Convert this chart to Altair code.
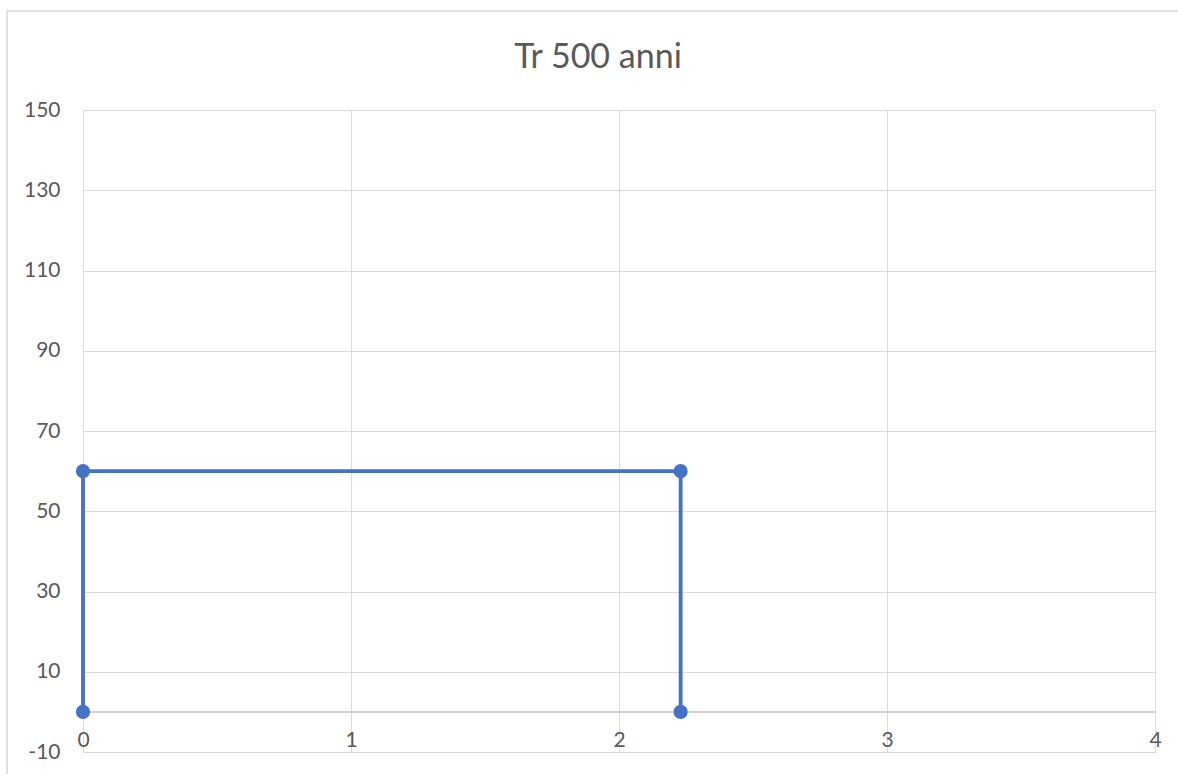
import altair as alt
import pandas as pd

# Outline of the section (x, y), drawn in order
step = [1, 2, 3, 4]
xs = [0, 0, 2.23, 2.23]
ys = [0, 60, 60, 0]

x_ticks = [0, 1, 2, 3, 4]
y_ticks = [-10, 10, 30, 50, 70, 90, 110, 130, 150]

TITLE = "Tr 500 anni"

df = pd.DataFrame({"step": step, "x": xs, "y": ys})

FONT = "Lato"
TXT = "#595959"
GRID = "#d9d9d9"
BLUE = "#4472C4"

W, H = 1072, 642

x_scale = alt.Scale(domain=[0, 4], nice=False, zero=False)
y_scale = alt.Scale(domain=[-10, 150], nice=False, zero=False)

x_axis = alt.Axis(
    values=x_ticks, title=None, grid=True, gridColor=GRID, gridWidth=1,
    domain=False, ticks=False, labelFont=FONT, labelFontSize=21,
    labelColor=TXT, labelPadding=-23, labelFlush=False,
    labelExpr="'' + datum.value",
)
y_axis = alt.Axis(
    values=y_ticks, title=None, grid=True, gridColor=GRID, gridWidth=1,
    domain=False, ticks=False, labelFont=FONT, labelFontSize=21,
    labelColor=TXT, labelPadding=23, labelExpr="'' + datum.value",
)

# Horizontal axis line crossing at y = 0
zero_line = alt.Chart(pd.DataFrame({"y0": [0]})).mark_rule(
    color="#bfbfbf", strokeWidth=1.5
).encode(y=alt.Y("y0:Q", scale=y_scale, axis=y_axis))

line = alt.Chart(df).mark_line(
    color=BLUE, strokeWidth=3.8,
    point=alt.OverlayMarkDef(filled=True, color=BLUE, size=200, opacity=1),
).encode(
    x=alt.X("x:Q", scale=x_scale, axis=x_axis),
    y=alt.Y("y:Q", scale=y_scale, axis=y_axis),
    order="step:Q",
)

# Outer chart frame
frame = alt.Chart(pd.DataFrame({"k": [0]})).mark_rect(
    fill=None, stroke=GRID, strokeWidth=1.5, clip=False
).encode(
    x=alt.value(-76), x2=alt.value(1120),
    y=alt.value(-99), y2=alt.value(720),
)

# Chart title, centred on the outer frame
title = alt.Chart(pd.DataFrame({"t": [TITLE]})).mark_text(
    font=FONT, fontSize=34, color=TXT, align="center",
    baseline="alphabetic", clip=False,
).encode(text="t:N", x=alt.value(515), y=alt.value(-42))

chart = alt.layer(zero_line, line, frame, title).properties(
    width=W, height=H,
    autosize=alt.AutoSizeParams(type="none"),
    padding={"left": 83, "top": 110, "right": 23, "bottom": 22},
).configure_view(stroke=None).configure(background="white")

chart.save("out.html", embed_options={"renderer": "svg", "actions": False})
